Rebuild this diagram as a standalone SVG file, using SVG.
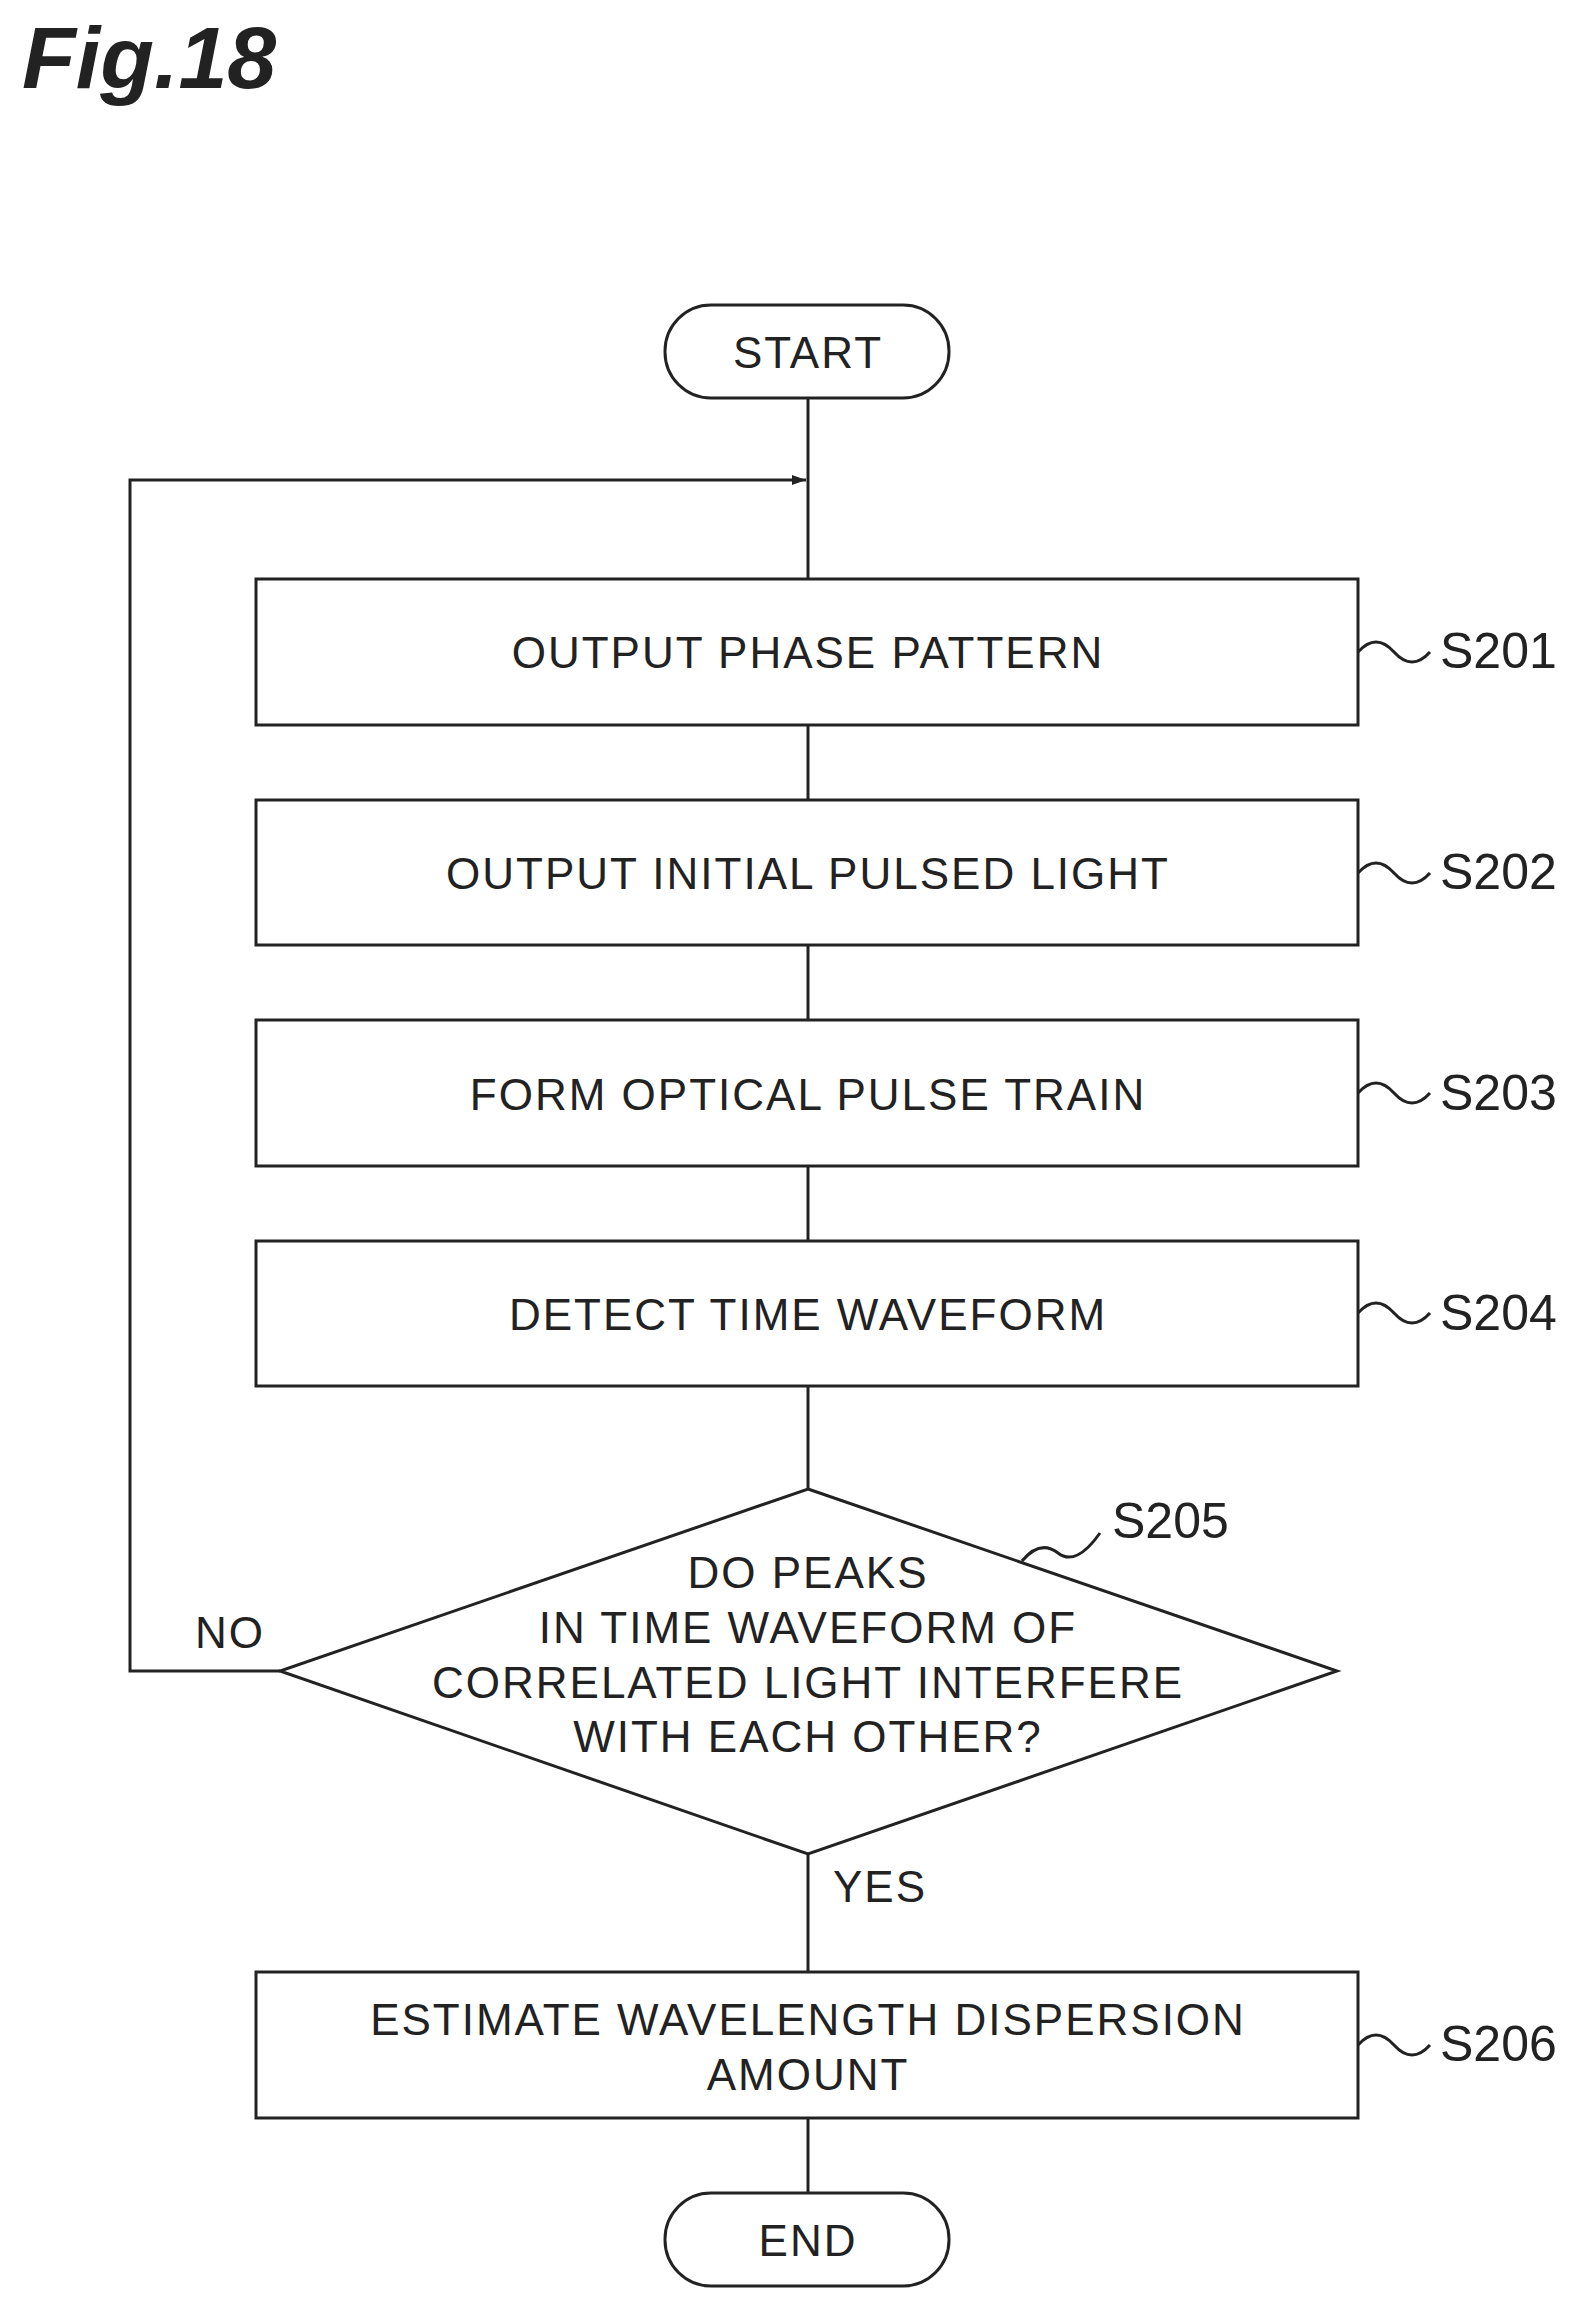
<svg xmlns="http://www.w3.org/2000/svg" width="1592" height="2308" viewBox="0 0 1592 2308">
<style>
.s{fill:#fff;stroke:#222;stroke-width:3}
.l{fill:none;stroke:#222;stroke-width:3}
.t{font-family:"Liberation Sans",Arial,sans-serif;font-size:44px;fill:#222;text-anchor:middle;letter-spacing:2px}
.r{font-family:"Liberation Sans",Arial,sans-serif;font-size:50px;fill:#222}
</style>
<defs><marker id="a" markerWidth="14" markerHeight="10" refX="14" refY="5" orient="auto" markerUnits="userSpaceOnUse"><path d="M0,0 L14,5 L0,10 z" fill="#222"/></marker></defs>
<rect width="1592" height="2308" fill="#fff"/>
<text x="22" y="88" style="font-family:'Liberation Sans',Arial,sans-serif;font-size:88px;font-weight:bold;font-style:italic" fill="#222">Fig.18</text>
<g id="connectors">
<line class="l" x1="808" y1="398" x2="808" y2="579"/>
<polyline class="l" points="280,1671 130,1671 130,480 806,480" marker-end="url(#a)"/>
<line class="l" x1="808" y1="725" x2="808" y2="800"/>
<line class="l" x1="808" y1="945" x2="808" y2="1020"/>
<line class="l" x1="808" y1="1166" x2="808" y2="1241"/>
<line class="l" x1="808" y1="1386" x2="808" y2="1489"/>
<line class="l" x1="808" y1="1854" x2="808" y2="1972"/>
<line class="l" x1="808" y1="2118" x2="808" y2="2193"/>
<text class="t" x="230" y="1648">NO</text>
<text class="t" x="880" y="1902">YES</text>
</g>
<g id="start"><rect class="s" x="665" y="305" width="284" height="93" rx="46"/><text class="t" x="808" y="368">START</text></g>
<g id="s201"><rect class="s" x="256" y="579" width="1102" height="146"/><text class="t" x="808" y="668">OUTPUT PHASE PATTERN</text><path class="l" d="M1358,652 q18,-20 36,0 t36,0"/><text class="r" x="1440" y="668">S201</text></g>
<g id="s202"><rect class="s" x="256" y="800" width="1102" height="145"/><text class="t" x="808" y="889">OUTPUT INITIAL PULSED LIGHT</text><path class="l" d="M1358,873 q18,-20 36,0 t36,0"/><text class="r" x="1440" y="889">S202</text></g>
<g id="s203"><rect class="s" x="256" y="1020" width="1102" height="146"/><text class="t" x="808" y="1110">FORM OPTICAL PULSE TRAIN</text><path class="l" d="M1358,1093 q18,-20 36,0 t36,0"/><text class="r" x="1440" y="1110">S203</text></g>
<g id="s204"><rect class="s" x="256" y="1241" width="1102" height="145"/><text class="t" x="808" y="1330">DETECT TIME WAVEFORM</text><path class="l" d="M1358,1313 q18,-20 36,0 t36,0"/><text class="r" x="1440" y="1330">S204</text></g>
<g id="s205"><polygon class="s" points="808,1489 1337,1671 808,1854 280,1671"/>
<text class="t" x="808" y="1588">DO PEAKS</text><text class="t" x="808" y="1643">IN TIME WAVEFORM OF</text><text class="t" x="808" y="1698">CORRELATED LIGHT INTERFERE</text><text class="t" x="808" y="1752">WITH EACH OTHER?</text>
<path class="l" d="M1022,1561 q18,-22 36,-8 t42,-20"/><text class="r" x="1112" y="1538">S205</text></g>
<g id="s206"><rect class="s" x="256" y="1972" width="1102" height="146"/><text class="t" x="808" y="2035">ESTIMATE WAVELENGTH DISPERSION</text><text class="t" x="808" y="2090">AMOUNT</text><path class="l" d="M1358,2045 q18,-20 36,0 t36,0"/><text class="r" x="1440" y="2061">S206</text></g>
<g id="end"><rect class="s" x="665" y="2193" width="284" height="93" rx="46"/><text class="t" x="808" y="2256">END</text></g>
</svg>
